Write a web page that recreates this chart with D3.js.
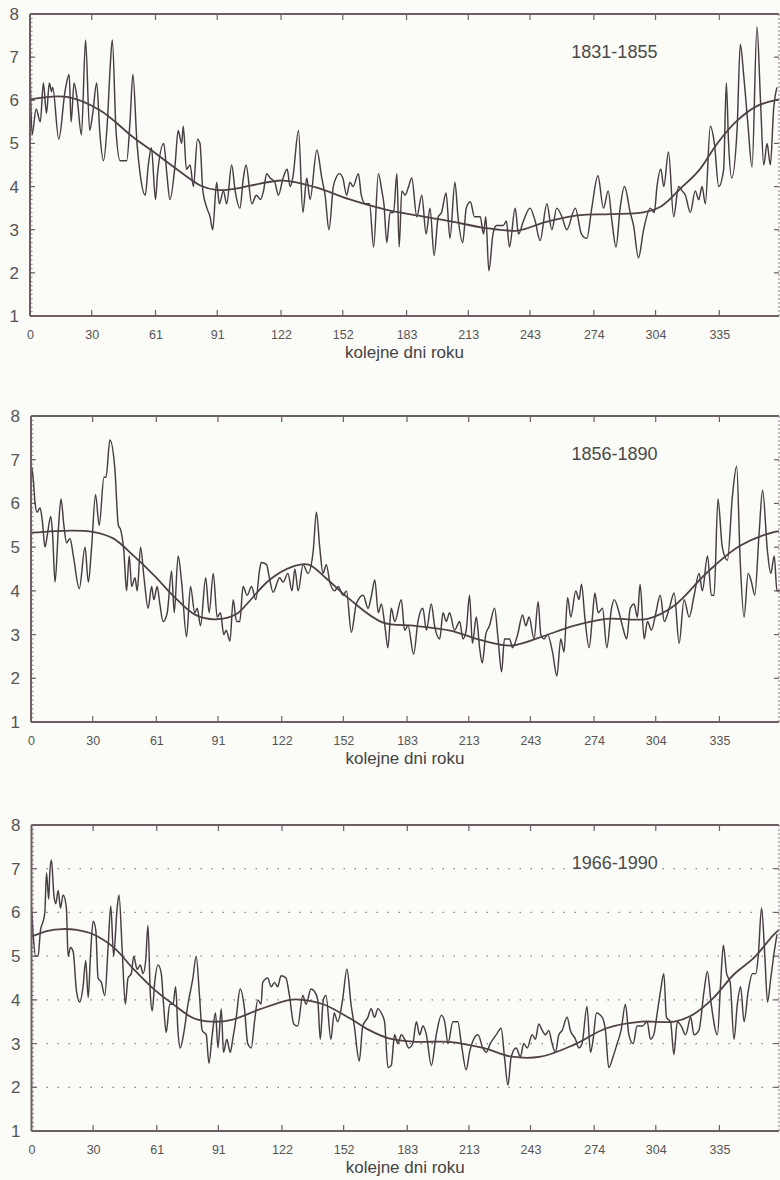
<!DOCTYPE html>
<html><head><meta charset="utf-8">
<script src="https://cdn.jsdelivr.net/npm/d3@7"></script>
<style>
html,body{margin:0;padding:0;background:#fbfbf8;}
svg{display:block;}
text{font-family:"Liberation Sans",Arial,sans-serif;}
</style></head>
<body><svg id="c" width="780" height="1180"></svg>
<script>
// ---------- DATA ----------
const xTickValues = [0,30,61,91,122,152,183,213,243,274,304,335];
const yTickValues = [1,2,3,4,5,6,7,8];
const periodLabels = ["1831-1855","1856-1890","1966-1990"];
const axisTitle = "kolejne dni roku";
const gridValues3 = [2,3,4,5,6,7];

// Panel 1 (1831-1855) daily series (day, value)
const days1 = [0,1,3,5,6.5,8,9.4,10.5,11,14,17,19,20,21.4,23,25,27,29,30.5,32.4,34,35.7,37.6,39,40,41.8,43.8,47,48.6,50,52,53.5,56,57.5,59,61,62,65,66.5,68,70.5,72,73.7,74.5,76,77.8,79.4,81.4,82.6,84,86,87.5,88.8,90.7,92,94,95.6,98,99.7,102,103.7,105,107.8,110,112,113.5,115,116.7,119,120.7,123,125,126.4,127.7,130.5,132.6,134.5,136.1,139.4,141.8,143.4,145.3,147.4,148.7,150.3,152,153.9,155.5,157,159.6,161,162.9,165,167,169.3,171,172,173.4,175,176.7,178.3,179.4,180.7,182.3,184,185.5,188,190.4,192.5,194.4,196.4,198.4,200,202.2,204.1,206.5,208,210.3,212,214,216,218.8,220.4,221.5,223,225,226.7,230,231.5,233,235.8,237.4,239.8,243,245.5,247.9,251.2,253.6,256,258.5,260.9,265,268,270.6,273,276,278.7,281,282.8,284.8,286.8,288.9,291.7,293.3,295.7,298.2,301.5,303.4,304.7,306.6,308,310.3,312.8,315.2,316.9,318.5,320.9,323.3,325,326.6,328.2,330.6,332.6,334.7,337.1,338.4,339.5,341,343.6,345.2,346.8,348.8,350.9,353.3,355,356.6,358.2,359.8,361.4,363];
const vals1 = [6.9,5.2,5.8,5.5,6.4,5.7,6.4,6.2,6.3,5.1,6.2,6.6,5.5,6.4,6.0,5.2,7.4,5.3,5.7,6.4,5.2,4.6,5.5,6.8,7.4,5.3,4.6,4.6,5.5,6.6,5.0,4.3,3.8,4.5,4.9,3.7,4.3,5.0,4.3,3.7,4.5,5.3,5.0,5.4,4.4,4.5,4.0,5.1,5.0,3.9,3.5,3.3,3.0,4.1,3.6,3.9,3.6,4.5,3.9,3.5,4.2,4.5,3.6,3.8,3.7,3.9,4.3,4.2,4.1,3.8,4.2,4.4,4.0,4.2,5.3,3.4,4.2,3.7,4.85,4.2,3.8,3.0,4.0,4.2,4.3,4.2,3.8,4.1,4.0,4.3,3.8,3.6,3.6,2.6,4.3,3.9,3.6,2.7,3.4,3.4,4.3,2.6,3.9,3.8,4.0,4.2,3.3,3.8,2.9,3.5,2.4,3.3,3.4,3.85,2.8,4.1,3.3,2.7,3.5,3.65,3.3,3.3,2.9,3.3,2.05,2.9,3.1,3.1,3.2,2.6,3.5,2.9,3.2,3.5,3.2,2.75,3.6,3.0,3.5,3.3,3.0,3.5,2.9,2.8,3.5,4.25,3.5,3.9,3.2,2.6,3.5,4.0,3.4,3.1,2.35,3.0,3.5,3.4,4.0,4.4,4.0,4.8,3.3,4.0,3.9,3.8,3.4,3.9,3.7,4.0,3.6,5.4,5.0,4.0,4.4,6.4,5.0,4.2,5.3,7.3,6.6,5.5,4.45,7.7,6.0,4.5,5.0,4.5,5.8,6.3];
const smoothDays1 = [0,18,34,50,59,70,83,91,100,107,123,139,155,172,188,204,220,237,250,266,282,298,307,316,325,334,343,353,364];
const smoothVals1 = [6.02,6.08,5.77,5.15,4.84,4.45,4.02,3.92,3.95,4.02,4.14,3.98,3.71,3.48,3.33,3.2,3.05,2.98,3.17,3.33,3.36,3.4,3.55,3.95,4.37,5.0,5.5,5.86,6.02];

// Panel 2 (1856-1890)
const days2 = [0,1,2,3,4.4,5.5,6.8,8,9.6,10.5,11.7,13.3,14.6,16,17.3,19,20.6,23.5,26.3,27.9,29.5,31.4,33.2,35.5,36.5,38.4,40.8,42.5,43.6,45.2,46.5,47.8,49,50.6,51.7,53.3,55,57,58.7,59.8,61.4,62.7,64.3,66.3,68.4,69.7,71.6,73.3,75.7,77.6,79.7,80.9,82.5,85,86.7,88.7,90.6,92.2,93.8,95,96.8,98.4,100,101.6,103.2,105.2,107.3,109.4,111.3,112.1,114.6,116,117.8,121,122.7,125,127,128.4,130,132.4,134.8,137.3,138.9,140.5,142.1,143.7,145.4,147.8,149.5,151.8,153.5,155.9,158.3,161.7,164,165.7,167.3,169,170.5,172.2,173.7,175.3,177,180.2,181.8,183.5,186.2,188.3,190.7,192.4,194.8,196.4,198.9,200.5,202.1,203.7,206.1,208.6,210.2,211.8,213.4,214.8,216.7,218.3,219.6,221.3,223.1,225.6,227.3,229,230.4,232.9,234.3,236.8,239.2,240.8,242.4,244.8,246.8,248.1,249.7,251.3,253.8,255.9,257.8,259.4,261.1,262.7,265.1,266.7,267.9,269.5,271.6,273.2,274.4,276,278.1,280.2,282.5,283.8,286.2,287.8,289.9,291.6,293.5,295.1,296.4,298.4,300,301.9,304.1,306.2,308.2,310.6,313,315.4,317.8,320.3,322.7,325.1,326.7,329.2,331.1,332.4,334.3,336.4,338.9,341.3,343.4,345.1,347,349,350.6,352.2,354.3,356,358.4,360,361.7,363,365];
const vals2 = [6.9,6.6,6.0,5.8,5.9,5.6,5.0,5.3,5.7,5.3,4.2,5.4,6.1,5.5,5.1,5.2,4.8,4.05,5.0,4.2,5.0,6.2,5.5,6.6,6.6,7.45,6.8,5.5,5.4,4.9,4.0,4.8,4.1,4.3,4.0,5.0,4.3,3.6,4.1,3.8,4.1,3.7,3.3,3.5,4.45,3.5,4.8,4.2,2.95,4.1,3.5,3.6,3.2,4.3,3.5,4.4,3.4,3.5,3.0,3.1,2.85,3.8,3.3,3.3,4.1,3.9,4.1,3.8,4.5,4.65,4.6,4.3,3.97,4.3,4.2,4.4,4.0,4.5,4.0,4.6,4.4,4.9,5.8,5.0,4.4,4.6,4.2,4.0,4.1,3.9,4.0,3.05,3.7,3.9,3.6,3.9,4.25,3.5,3.7,3.2,2.7,3.6,3.3,3.8,3.1,3.2,2.55,3.3,3.6,3.1,3.7,3.2,2.9,3.5,3.3,3.5,3.1,3.3,2.9,3.1,3.9,2.8,3.4,2.7,2.35,3.0,3.2,3.6,2.9,2.15,2.9,2.9,2.7,3.0,3.45,3.2,3.4,2.9,3.75,3.0,2.9,3.0,2.6,2.05,2.9,2.6,3.85,3.4,4.0,3.8,4.15,3.4,2.7,3.4,3.95,3.5,3.6,2.7,3.6,3.8,3.5,3.2,2.9,3.6,3.7,3.4,4.15,2.9,3.3,3.1,3.5,3.9,3.3,3.6,3.95,2.8,3.8,3.4,3.9,4.4,4.0,4.8,3.9,3.9,6.1,5.0,4.7,6.15,6.85,4.7,3.4,4.4,4.2,3.9,5.3,6.3,4.9,4.4,4.8,4.0,4.0];
const smoothDays2 = [0,20,30,40,50,60,70,80,90,100,106,116,127,135,144,155,171,187,204,220,234,248,264,280,300,313,329,345,361,364];
const smoothVals2 = [5.33,5.38,5.35,5.2,4.8,4.35,3.85,3.45,3.35,3.47,3.75,4.25,4.55,4.6,4.27,3.81,3.28,3.2,3.09,2.86,2.75,2.94,3.2,3.36,3.36,3.66,4.42,5.03,5.34,5.36];

// Panel 3 (1966-1990)
const days3 = [0,0.8,2,3.2,4.4,5.7,6.5,7.3,8.4,8.9,9.7,10.9,11.8,13,14.1,15.4,17,17.8,19,20.3,21.9,23.5,25.1,26.4,27.6,28.7,30,31.3,32.4,34,35.7,37.3,38.6,40,41.7,42.6,44.2,45.7,47,48.6,49.8,51.4,53,54.3,55.6,56.7,57.9,58.8,60,61.6,63.2,64.3,65.6,67.3,68.9,70.2,71.3,72.4,74,76.2,78.6,80.2,81.8,83.1,85.1,86.4,88,89.6,90.8,92.4,93.5,95.1,96.8,98,99.7,101.6,103.7,105.3,107,108.6,110.2,111.8,112.6,115,116.7,118.3,119.9,121.5,123.9,125.6,127.7,129.6,132.1,133.7,136.1,137.7,139.4,140.6,142.1,143.4,145.8,147.4,149.1,151.5,153.6,155.6,157.2,159.6,161.3,163.8,165.4,167,168.7,170.3,171.9,173.6,175.2,176.8,178.4,180.1,181.7,183.8,185.7,187.4,189,190.6,192.3,194.7,197.1,199.6,201.2,202.8,205.2,207.6,209.3,211.7,213.3,215.3,217.4,219.8,221.4,223.4,226.3,228.7,230.3,232,233.6,236,238.1,239.7,241.4,243.8,245.4,247,248.7,250.3,251.9,253.5,255.1,256.8,258.4,260.8,262.4,264.9,266.5,268.1,270.5,272.2,273.5,275.1,277.9,279.5,281.1,283.2,285.2,287.1,289.2,290.9,293,294.9,297.4,299.8,301.4,303,304.7,306.3,307.9,309.2,311.2,312.8,314.5,316.4,318.5,321,322.6,325,327.5,329.1,331,334,335.6,336.9,338.5,340.2,342.1,343.7,345.3,347,349,351.1,352.7,353.9,355.5,357.1,358.4,360,361.7,363];
const vals3 = [6.1,5.5,5.0,5.0,5.6,5.8,6.0,6.9,6.3,6.9,7.2,6.4,6.2,6.5,6.1,6.4,6.1,5.0,5.2,5.1,4.2,3.95,4.3,4.9,4.05,5.0,5.8,5.6,4.5,4.4,4.1,5.2,6.15,5.0,6.1,6.4,5.1,3.9,4.5,4.6,5.0,4.7,4.8,4.6,4.9,5.7,4.1,3.75,4.4,4.8,4.6,3.9,3.25,3.9,3.9,4.3,3.3,2.9,3.2,3.9,4.5,5.0,4.1,3.3,3.2,2.55,3.2,3.7,2.9,3.8,2.8,3.1,2.8,3.1,3.6,4.25,3.8,3.0,2.9,3.5,4.0,3.9,4.4,4.5,4.3,4.4,4.3,4.55,4.5,4.1,3.45,3.4,4.1,3.9,4.25,4.2,4.0,3.1,4.0,4.1,3.1,3.7,3.5,4.0,4.7,3.9,3.4,2.6,3.4,3.6,3.8,3.6,3.8,3.7,3.5,2.45,2.5,3.2,3.0,3.2,3.1,2.9,3.0,3.5,3.2,3.4,3.2,2.5,3.2,3.65,3.5,3.0,3.5,3.5,3.0,2.4,2.8,3.1,3.2,2.9,2.8,3.0,3.2,3.35,2.7,2.05,2.7,2.9,2.7,3.0,2.9,3.2,3.1,3.45,3.3,3.2,3.3,3.0,2.8,3.2,3.3,3.6,3.3,3.1,2.9,3.0,3.85,2.8,3.1,3.7,3.6,3.3,2.45,2.7,3.0,3.3,3.9,3.2,3.0,3.4,3.4,3.5,3.1,3.2,3.7,4.2,4.6,3.6,3.5,2.75,3.5,3.4,3.2,3.6,3.2,3.3,4.2,4.65,3.9,3.2,4.4,5.25,4.6,4.4,3.1,3.9,4.3,3.5,4.2,4.6,4.6,5.0,6.1,5.0,3.95,4.5,5.1,5.5];
const smoothDays3 = [0,8,15,22,30,40,49,59,69,79,88,98,111,126,132,142,155,164,174,187,203,220,234,248,264,280,297,313,322,332,342,352,361,364];
const smoothVals3 = [5.45,5.58,5.62,5.6,5.5,5.2,4.74,4.27,3.9,3.58,3.5,3.55,3.78,4.0,4.0,3.9,3.58,3.32,3.12,3.04,3.04,2.9,2.7,2.7,2.97,3.35,3.5,3.5,3.66,4.04,4.58,4.97,5.47,5.6];

// ---------- LAYOUT ----------
const panels = [
  {top:14,  bottom:316,  left:30,   days:days1, vals:vals1, sd:smoothDays1, sv:smoothVals1, grid:false},
  {top:416, bottom:722,  left:31,   days:days2, vals:vals2, sd:smoothDays2, sv:smoothVals2, grid:false},
  {top:825, bottom:1131, left:31.5, days:days3, vals:vals3, sd:smoothDays3, sv:smoothVals3, grid:true}
];
const RIGHT = 779;
const frameColor = "#6d5f66";
const lineColor = "#463d41";
const textColor = "#555";

const svg = d3.select("#c");

panels.forEach((p, i) => {
  const x = d3.scaleLinear().domain([0, 364]).range([p.left, RIGHT]);
  const y = d3.scaleLinear().domain([1, 8]).range([p.bottom, p.top]);
  const g = svg.append("g");

  if (p.grid) {
    g.selectAll("line.grid").data(gridValues3).enter().append("line")
      .attr("x1", p.left + 4).attr("x2", RIGHT - 2)
      .attr("y1", d => y(d)).attr("y2", d => y(d))
      .attr("stroke", "#8a8088").attr("stroke-width", 1.3)
      .attr("stroke-dasharray", "1.5,9.5");
  }

  const minor = d3.range(1, 8.001, 0.1);
  g.selectAll("line.minor").data(minor).enter().append("line")
    .attr("x1", p.left).attr("x2", p.left + 2.5)
    .attr("y1", d => y(d)).attr("y2", d => y(d))
    .attr("stroke", frameColor).attr("stroke-width", 0.8);

  const yAxis = d3.axisLeft(y).tickValues(yTickValues).tickSize(0).tickPadding(11).tickFormat(d3.format("d"));
  const ya = g.append("g").attr("transform", `translate(${p.left},0)`).call(yAxis);
  ya.select(".domain").remove();
  ya.selectAll("text").attr("font-size", 17).attr("fill", textColor)
    .attr("font-family", "'Liberation Sans', Arial, sans-serif");
  g.selectAll("line.ymaj").data(yTickValues).enter().append("line")
    .attr("x1", p.left).attr("x2", p.left + 5)
    .attr("y1", d => y(d)).attr("y2", d => y(d))
    .attr("stroke", frameColor).attr("stroke-width", 1.2);
  g.selectAll("line.yr").data(yTickValues).enter().append("line")
    .attr("x1", RIGHT - 5).attr("x2", RIGHT)
    .attr("y1", d => y(d)).attr("y2", d => y(d))
    .attr("stroke", frameColor).attr("stroke-width", 1.2);

  const xAxis = d3.axisBottom(x).tickValues(xTickValues).tickSize(0).tickPadding(14);
  const xa = g.append("g").attr("transform", `translate(0,${p.bottom})`).call(xAxis);
  xa.select(".domain").remove();
  xa.selectAll("text").attr("font-size", 12.5).attr("fill", textColor)
    .attr("font-family", "'Liberation Sans', Arial, sans-serif");
  g.selectAll("line.xb").data(xTickValues.slice(1)).enter().append("line")
    .attr("x1", d => x(d)).attr("x2", d => x(d))
    .attr("y1", p.bottom).attr("y2", p.bottom - 6)
    .attr("stroke", frameColor).attr("stroke-width", 1.2);
  g.selectAll("line.xt").data(xTickValues.slice(1)).enter().append("line")
    .attr("x1", d => x(d)).attr("x2", d => x(d))
    .attr("y1", p.top).attr("y2", p.top + 6)
    .attr("stroke", frameColor).attr("stroke-width", 1.2);

  const pts = p.days.map((d, k) => [d, p.vals[k]]);
  const spts = p.sd.map((d, k) => [d, p.sv[k]]);
  const line = d3.line().x(d => x(d[0])).y(d => y(d[1])).curve(d3.curveMonotoneX);
  const sline = d3.line().x(d => x(d[0])).y(d => y(d[1])).curve(d3.curveCatmullRom.alpha(0.5));
  g.append("path").attr("d", line(pts)).attr("fill", "none")
    .attr("stroke", lineColor).attr("stroke-width", 1.45).attr("stroke-linejoin", "round");
  g.append("path").attr("d", sline(spts)).attr("fill", "none")
    .attr("stroke", "#4f4246").attr("stroke-width", 1.8);

  g.append("line").attr("x1", p.left).attr("x2", RIGHT).attr("y1", p.top).attr("y2", p.top)
    .attr("stroke", frameColor).attr("stroke-width", 2);
  g.append("line").attr("x1", p.left).attr("x2", RIGHT).attr("y1", p.bottom).attr("y2", p.bottom)
    .attr("stroke", frameColor).attr("stroke-width", 2);
  g.append("line").attr("x1", p.left).attr("x2", p.left).attr("y1", p.top).attr("y2", p.bottom)
    .attr("stroke", frameColor).attr("stroke-width", 2);
  g.append("line").attr("x1", RIGHT).attr("x2", RIGHT).attr("y1", p.top).attr("y2", p.bottom)
    .attr("stroke", "#8a7f86").attr("stroke-width", 1).attr("stroke-dasharray", "2,2");

  g.append("text").attr("x", x(284)).attr("y", y(7.1))
    .attr("text-anchor", "middle").attr("dominant-baseline", "middle")
    .attr("font-size", 18).attr("fill", "#4a4a4a").text(periodLabels[i]);

  g.append("text").attr("x", (p.left + RIGHT) / 2).attr("y", p.bottom + 38)
    .attr("text-anchor", "middle").attr("dominant-baseline", "middle")
    .attr("font-size", 17).attr("fill", "#444").text(axisTitle);
});
</script></body></html>
